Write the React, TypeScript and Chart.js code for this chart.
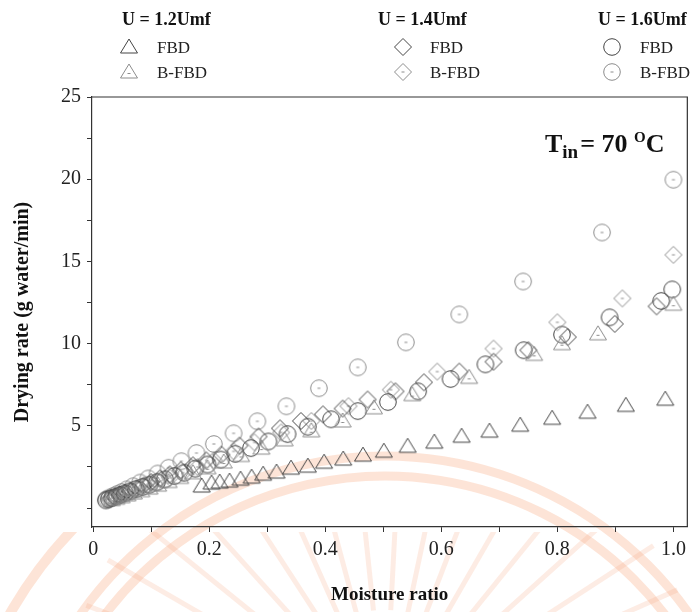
import React, { useEffect, useRef } from "react";
import { Chart, registerables } from "chart.js";
Chart.register(...registerables);

const SERIF = '"Liberation Serif", "Times New Roman", serif';

// ---- data ----
const fbd12X = [0.187, 0.204, 0.218, 0.235, 0.254, 0.273, 0.293, 0.316, 0.341, 0.37, 0.398, 0.431, 0.465, 0.501, 0.542, 0.588, 0.635, 0.683, 0.736, 0.791, 0.852, 0.918, 0.986];
const fbd12Y = [1.34, 1.52, 1.58, 1.64, 1.76, 1.88, 2.06, 2.19, 2.43, 2.55, 2.79, 2.98, 3.22, 3.46, 3.76, 4.01, 4.37, 4.68, 5.04, 5.46, 5.83, 6.25, 6.62];

const bfbd12X = [1.0, 0.87, 0.808, 0.76, 0.648, 0.55, 0.484, 0.43, 0.376, 0.33, 0.29, 0.255, 0.225, 0.197, 0.172, 0.15, 0.13, 0.112, 0.097, 0.083, 0.07, 0.059, 0.049, 0.04, 0.032];
const bfbd12Y = [12.4, 10.6, 10.0, 9.35, 7.95, 6.9, 6.1, 5.3, 4.7, 4.15, 3.65, 3.2, 2.8, 2.45, 2.15, 1.87, 1.62, 1.4, 1.22, 1.06, 0.92, 0.8, 0.69, 0.6, 0.52];

const fbd14X = [0.971, 0.899, 0.818, 0.75, 0.69, 0.631, 0.57, 0.521, 0.473, 0.43, 0.396, 0.358, 0.322, 0.285, 0.252, 0.221, 0.195, 0.172, 0.151, 0.132, 0.115, 0.1, 0.087, 0.075, 0.064, 0.054, 0.045, 0.037, 0.03];
const fbd14Y = [12.27, 11.2, 10.4, 9.6, 8.9, 8.3, 7.65, 7.1, 6.6, 6.05, 5.7, 5.3, 4.85, 4.35, 3.8, 3.25, 2.9, 2.6, 2.3, 2.05, 1.8, 1.58, 1.38, 1.2, 1.05, 0.92, 0.8, 0.68, 0.58];

const bfbd14X = [1.0, 0.912, 0.8, 0.69, 0.593, 0.513, 0.44, 0.376, 0.324, 0.278, 0.242, 0.208, 0.18, 0.155, 0.132, 0.112, 0.095, 0.08, 0.067, 0.055, 0.045, 0.036, 0.028];
const bfbd14Y = [15.4, 12.75, 11.3, 9.7, 8.3, 7.2, 6.2, 5.3, 4.6, 4.0, 3.45, 2.9, 2.5, 2.15, 1.85, 1.6, 1.38, 1.2, 1.02, 0.88, 0.76, 0.64, 0.55];

const fbd16X = [0.998, 0.979, 0.89, 0.808, 0.742, 0.676, 0.616, 0.56, 0.508, 0.456, 0.41, 0.37, 0.335, 0.302, 0.272, 0.245, 0.22, 0.197, 0.176, 0.157, 0.14, 0.124, 0.11, 0.097, 0.085, 0.074, 0.064, 0.055, 0.047, 0.04, 0.033, 0.027, 0.022];
const fbd16Y = [13.3, 12.6, 11.6, 10.55, 9.6, 8.74, 7.85, 7.1, 6.45, 5.9, 5.4, 4.95, 4.5, 4.05, 3.65, 3.3, 2.95, 2.65, 2.4, 2.15, 1.95, 1.75, 1.57, 1.42, 1.28, 1.15, 1.02, 0.9, 0.8, 0.7, 0.62, 0.54, 0.47];

const bfbd16X = [1.0, 0.877, 0.741, 0.631, 0.539, 0.456, 0.389, 0.333, 0.283, 0.242, 0.208, 0.178, 0.152, 0.13, 0.111, 0.095, 0.081, 0.069, 0.058, 0.049, 0.041, 0.034, 0.028, 0.023];
const bfbd16Y = [19.97, 16.76, 13.78, 11.78, 10.08, 8.56, 7.29, 6.19, 5.28, 4.55, 3.9, 3.35, 2.85, 2.45, 2.1, 1.8, 1.55, 1.33, 1.14, 0.98, 0.85, 0.73, 0.63, 0.55];

const X_TICKS = [0, 0.1, 0.2, 0.3, 0.4, 0.5, 0.6, 0.7, 0.8, 0.9, 1.0];
const X_TICK_LABELS = ["0", "", "0.2", "", "0.4", "", "0.6", "", "0.8", "", "1.0"];
const Y_TICKS = [0, 2.5, 5, 7.5, 10, 12.5, 15, 17.5, 20, 22.5, 25];
const Y_TICK_LABELS = ["", "", "5", "", "10", "", "15", "", "20", "", "25"];

const GROUP_TITLES = ["U = 1.2Umf", "U = 1.4Umf", "U = 1.6Umf"];
const ITEM_LABELS = ["FBD", "B-FBD"];

const FBD_COLOR = "#444444";
const BFBD_COLOR = "#8c8c8c";

type Shape = "triangle" | "diamond" | "circle";

function makeMarker(shape: Shape, color: string, dot: boolean): HTMLCanvasElement {
  const s = 22;
  const c = document.createElement("canvas");
  c.width = s;
  c.height = s;
  const ctx = c.getContext("2d")!;
  ctx.strokeStyle = color;
  ctx.lineWidth = 1;
  const m = s / 2;
  ctx.beginPath();
  if (shape === "triangle") {
    ctx.moveTo(m, m - 8);
    ctx.lineTo(m + 8.5, m + 6);
    ctx.lineTo(m - 8.5, m + 6);
    ctx.closePath();
  } else if (shape === "diamond") {
    ctx.moveTo(m, m - 8.5);
    ctx.lineTo(m + 8.5, m);
    ctx.lineTo(m, m + 8.5);
    ctx.lineTo(m - 8.5, m);
    ctx.closePath();
  } else {
    ctx.arc(m, m, 8.3, 0, Math.PI * 2);
  }
  ctx.stroke();
  if (dot) {
    const cy = shape === "triangle" ? m + 1.5 : m;
    ctx.beginPath();
    ctx.moveTo(m - 1.5, cy);
    ctx.lineTo(m + 1.5, cy);
    ctx.stroke();
  }
  return c;
}

function pts(xs: number[], ys: number[]) {
  return xs.map((x, i) => ({ x, y: ys[i] }));
}

export default function App() {
  const ref = useRef<HTMLCanvasElement | null>(null);

  useEffect(() => {
    if (!ref.current) return;
    const markers = {
      fbd12: makeMarker("triangle", FBD_COLOR, false),
      bfbd12: makeMarker("triangle", BFBD_COLOR, true),
      fbd14: makeMarker("diamond", FBD_COLOR, false),
      bfbd14: makeMarker("diamond", BFBD_COLOR, true),
      fbd16: makeMarker("circle", FBD_COLOR, false),
      bfbd16: makeMarker("circle", BFBD_COLOR, true),
    };
    const legendMarkers = [
      [markers.fbd12, markers.bfbd12],
      [markers.fbd14, markers.bfbd14],
      [markers.fbd16, markers.bfbd16],
    ];

    const watermark = {
      id: "watermark",
      beforeDraw(chart: any) {
        const ctx = chart.ctx;
        const cx = 385, cy = 828;
        ctx.save();
        ctx.strokeStyle = "rgba(248,170,130,0.32)";
        ctx.lineWidth = 9;
        [372, 352].forEach((r) => {
          ctx.beginPath();
          ctx.arc(cx, cy, r, Math.PI * 1.05, Math.PI * 1.95);
          ctx.stroke();
        });
        // lower part of logo: outer ring + rays below the axis
        ctx.beginPath();
        ctx.rect(0, 532, 692, 80);
        ctx.clip();
        ctx.lineWidth = 10;
        ctx.beginPath();
        ctx.arc(cx, cy, 432, Math.PI * 1.05, Math.PI * 1.95);
        ctx.stroke();
        ctx.strokeStyle = "rgba(248,170,130,0.22)";
        ctx.lineWidth = 5;
        const rcx = 385, rcy = 720;
        for (let a = -168; a <= -12; a += 9) {
          const rad = (a * Math.PI) / 180;
          ctx.beginPath();
          ctx.moveTo(rcx + Math.cos(rad) * 110, rcy + Math.sin(rad) * 110);
          ctx.lineTo(rcx + Math.cos(rad) * 320, rcy + Math.sin(rad) * 320);
          ctx.stroke();
        }
        ctx.restore();
      },
    };

    const decor = {
      id: "decor",
      afterDraw(chart: any) {
        const ctx = chart.ctx;
        const a = chart.chartArea;
        ctx.save();
        // frame top & right
        ctx.strokeStyle = "#333";
        ctx.lineWidth = 1.2;
        ctx.beginPath();
        ctx.moveTo(a.left, a.top);
        ctx.lineTo(a.right, a.top);
        ctx.lineTo(a.right, a.bottom);
        ctx.stroke();

        // legend
        const headX = [122, 378, 598];
        const markX = [129, 403, 612];
        const textX = [157, 430, 640];
        const rowY = [47, 72];
        ctx.textBaseline = "alphabetic";
        ctx.textAlign = "left";
        GROUP_TITLES.forEach((t, g) => {
          ctx.font = `bold 18px ${SERIF}`;
          ctx.fillStyle = "#111";
          ctx.fillText(t, headX[g], 25);
          ITEM_LABELS.forEach((lab, r) => {
            const img = legendMarkers[g][r];
            ctx.drawImage(img, markX[g] - img.width / 2, rowY[r] - img.height / 2);
            ctx.font = `17px ${SERIF}`;
            ctx.fillStyle = "#222";
            ctx.fillText(lab, textX[g], rowY[r] + 6);
          });
        });

        // annotation T_in = 70 °C
        ctx.fillStyle = "#111";
        let x = 545;
        const base = 152;
        ctx.font = `bold 26px ${SERIF}`;
        ctx.fillText("T", x, base);
        x += ctx.measureText("T").width;
        ctx.font = `bold 19px ${SERIF}`;
        ctx.fillText("in", x, base + 6);
        x += ctx.measureText("in").width + 2;
        ctx.font = `bold 26px ${SERIF}`;
        ctx.fillText("= 70", x, base);
        x += ctx.measureText("= 70 ").width;
        ctx.font = `bold 15px ${SERIF}`;
        ctx.fillText("O", x, base - 10);
        x += ctx.measureText("O").width;
        ctx.font = `bold 26px ${SERIF}`;
        ctx.fillText("C", x, base);
        ctx.restore();
      },
    };

    const chart = new Chart(ref.current, {
      type: "scatter",
      data: {
        datasets: [
          { label: "U = 1.2Umf FBD", data: pts(fbd12X, fbd12Y), pointStyle: markers.fbd12 as any },
          { label: "U = 1.2Umf B-FBD", data: pts(bfbd12X, bfbd12Y), pointStyle: markers.bfbd12 as any },
          { label: "U = 1.4Umf FBD", data: pts(fbd14X, fbd14Y), pointStyle: markers.fbd14 as any },
          { label: "U = 1.4Umf B-FBD", data: pts(bfbd14X, bfbd14Y), pointStyle: markers.bfbd14 as any },
          { label: "U = 1.6Umf FBD", data: pts(fbd16X, fbd16Y), pointStyle: markers.fbd16 as any },
          { label: "U = 1.6Umf B-FBD", data: pts(bfbd16X, bfbd16Y), pointStyle: markers.bfbd16 as any },
        ],
      },
      options: {
        animation: false,
        responsive: false,
        events: [],
        layout: { padding: { left: 0, top: 97, right: 4, bottom: 0 }, autoPadding: false },
        plugins: { legend: { display: false }, tooltip: { enabled: false } },
        scales: {
          x: {
            type: "linear",
            min: -0.002,
            max: 1.024,
            afterBuildTicks: (s: any) => {
              s.ticks = X_TICKS.map((v) => ({ value: v }));
            },
            afterFit: (s: any) => {
              s.height = 85;
            },
            ticks: {
              autoSkip: false,
              maxRotation: 0,
              padding: 6,
              color: "#222",
              font: { family: SERIF, size: 20 },
              callback: (v: any) => {
                const i = X_TICKS.findIndex((t) => Math.abs(t - v) < 1e-6);
                return i >= 0 ? X_TICK_LABELS[i] : "";
              },
            },
            grid: { drawOnChartArea: false, drawTicks: true, tickLength: 5, color: "#333" },
            border: { display: true, color: "#333", width: 1.2 },
            title: {
              display: true,
              text: "Moisture ratio",
              color: "#111",
              font: { family: SERIF, size: 19, weight: "bold" },
              padding: { top: 0, bottom: 6 },
            },
          },
          y: {
            type: "linear",
            min: -1.15,
            max: 25,
            afterBuildTicks: (s: any) => {
              s.ticks = Y_TICKS.map((v) => ({ value: v }));
            },
            afterFit: (s: any) => {
              s.width = 92;
            },
            ticks: {
              autoSkip: false,
              padding: 6,
              color: "#222",
              font: { family: SERIF, size: 20 },
              callback: (v: any) => {
                const i = Y_TICKS.findIndex((t) => Math.abs(t - v) < 1e-6);
                return i >= 0 ? Y_TICK_LABELS[i] : "";
              },
            },
            grid: { drawOnChartArea: false, drawTicks: true, tickLength: 5, color: "#333" },
            border: { display: true, color: "#333", width: 1.2 },
            title: {
              display: true,
              text: "Drying rate (g water/min)",
              color: "#111",
              font: { family: SERIF, size: 20, weight: "bold" },
              padding: { top: 11, bottom: 0 },
            },
          },
        },
      },
      plugins: [watermark, decor],
    });
    return () => chart.destroy();
  }, []);

  return (
    <div style={{ position: "absolute", left: 0, top: 0, width: 692, height: 612, background: "#fff" }}>
      <canvas ref={ref} width={692} height={612} style={{ display: "block", width: 692, height: 612 }} />
    </div>
  );
}
